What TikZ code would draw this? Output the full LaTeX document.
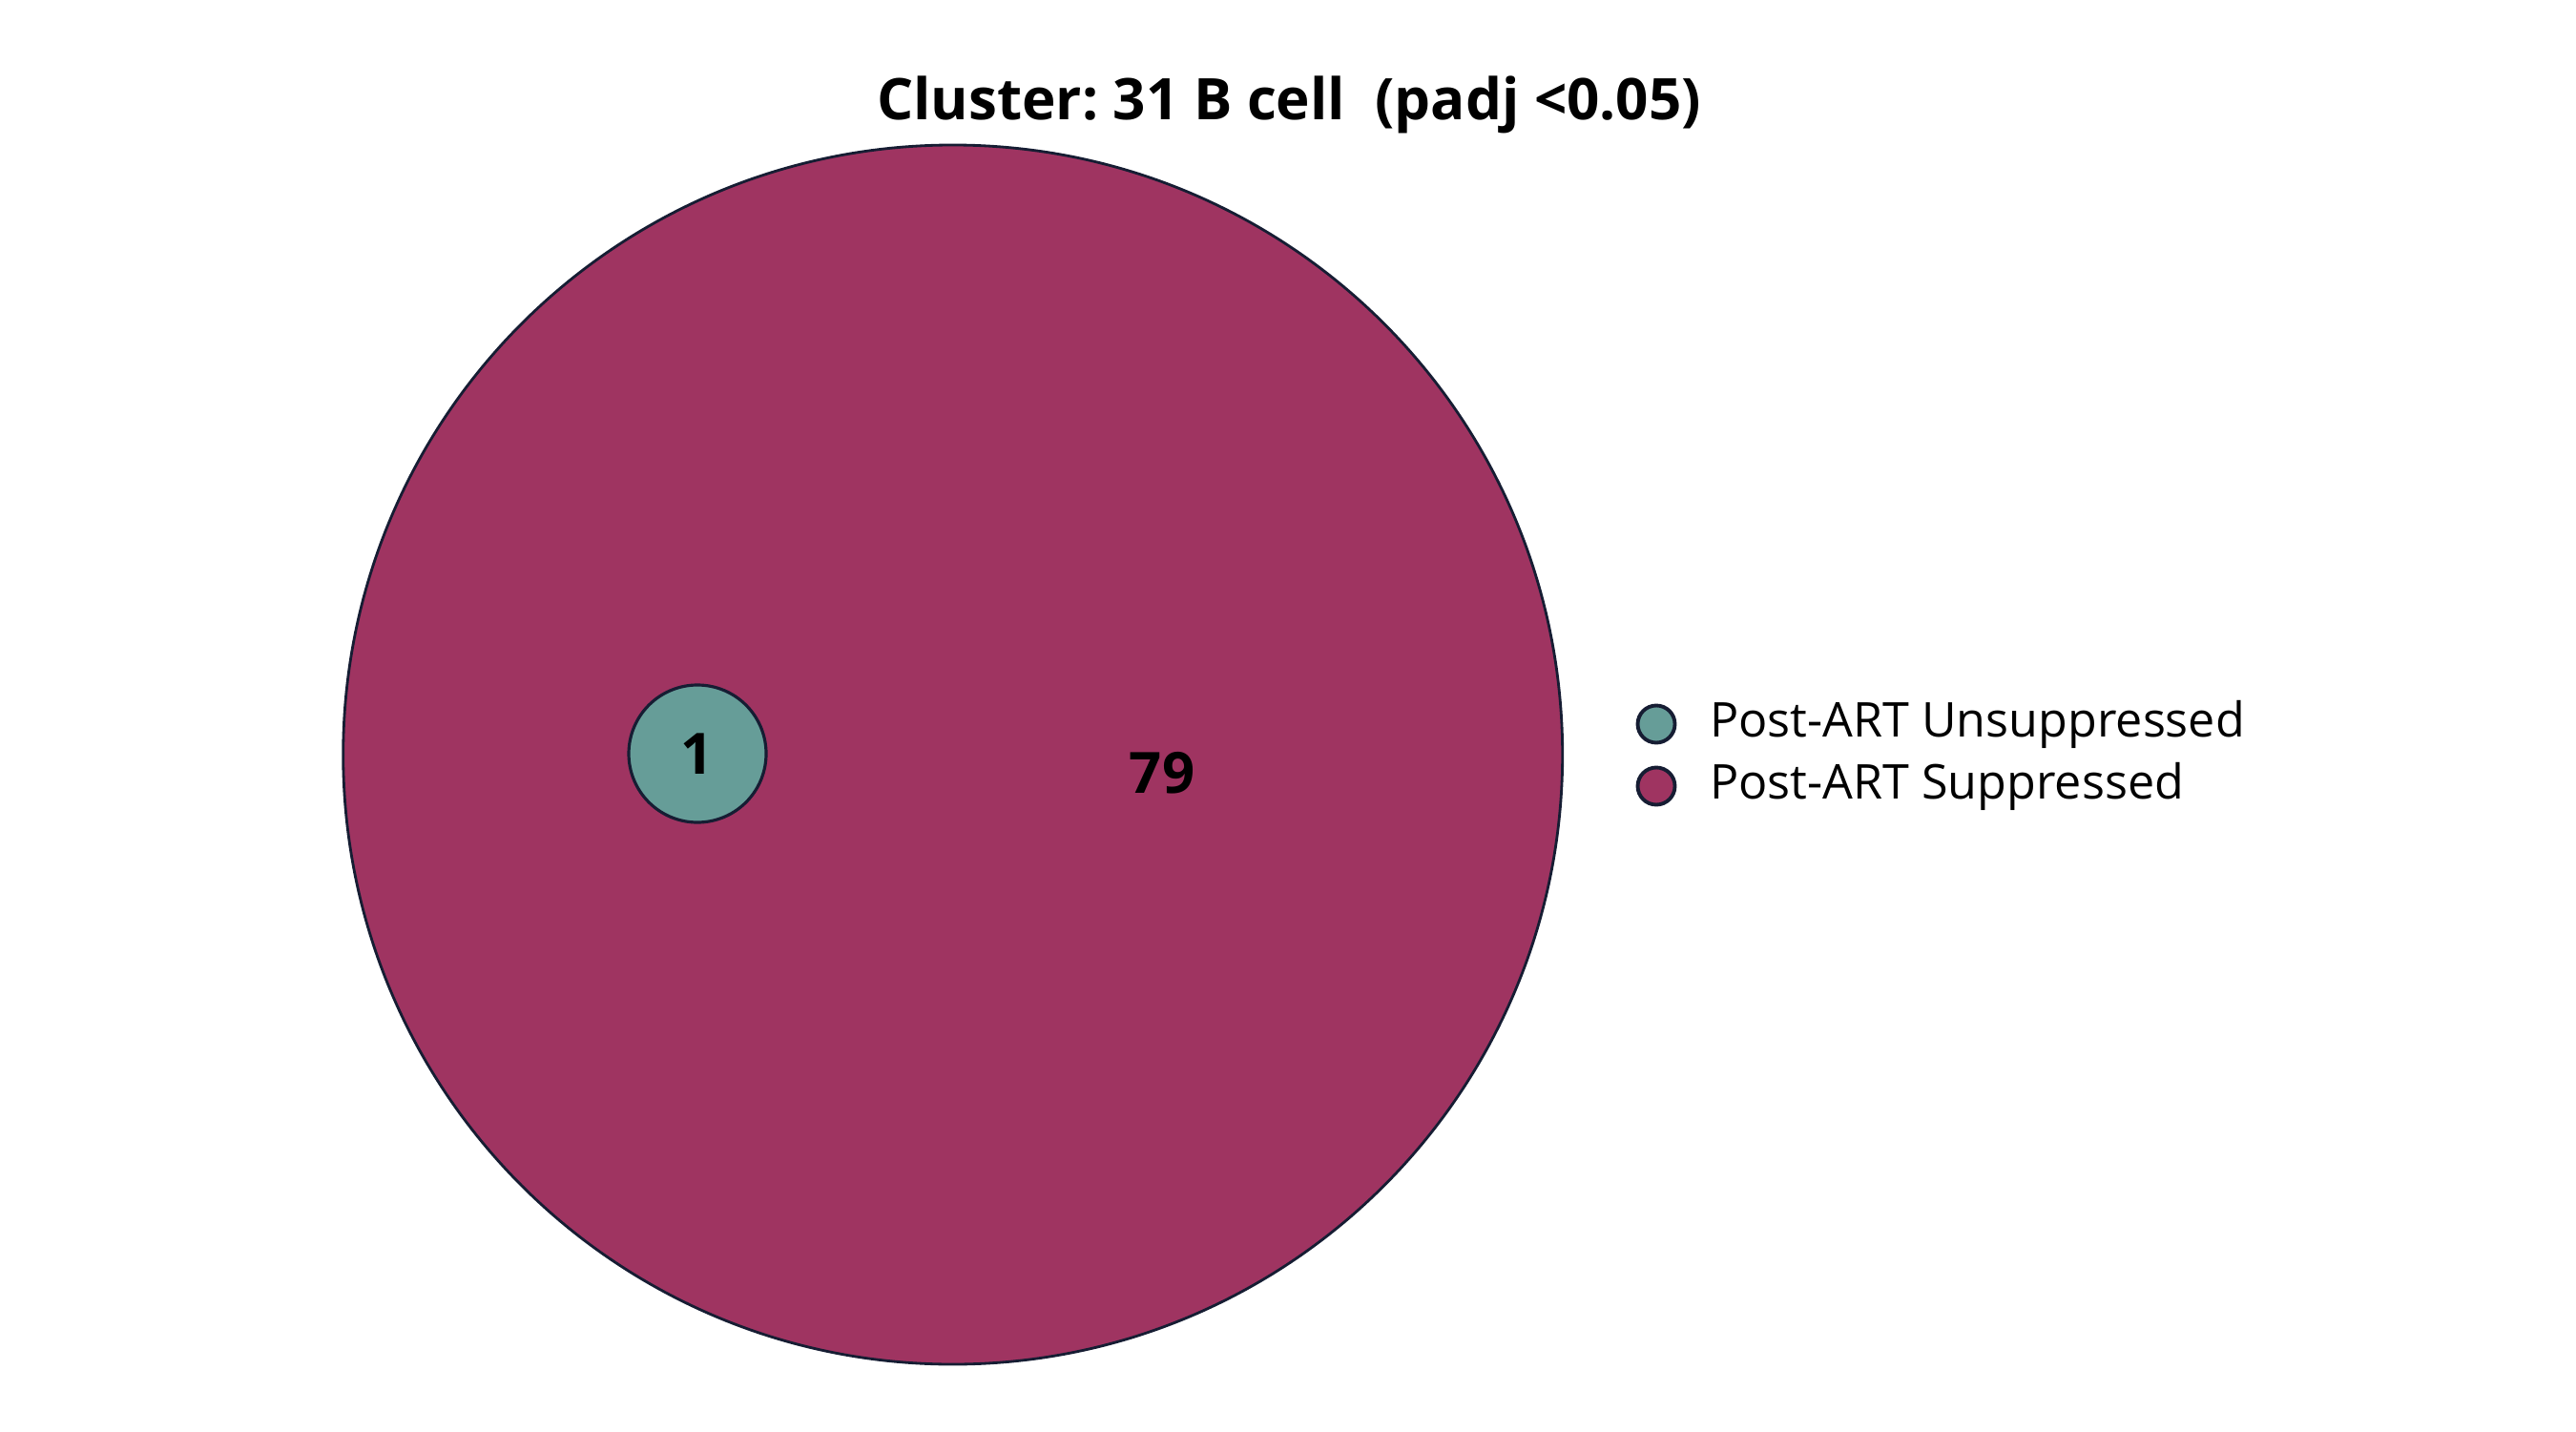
\documentclass[tikz,border=0pt]{standalone}
\usepackage{fontspec}
\setmainfont{Open Sans}
\usetikzlibrary{positioning}

\definecolor{suppr}{HTML}{9F3461}
\definecolor{unsup}{HTML}{669D98}
\definecolor{rim}{HTML}{161D33}

\begin{document}
\frenchspacing
\begin{tikzpicture}[x=1cm, y=1cm, node distance=0.35cm]

\useasboundingbox (0,0) rectangle (27,15);

% Title
\node[font=\bfseries\fontsize{17.1}{21}\selectfont] (title) at (13.51,13.90) {Cluster: 31 B cell\ \ (padj <0.05)};

% Sets
\node[circle, draw=rim, line width=0.8pt, fill=suppr, minimum size=12.78cm, inner sep=0pt] (setB) at (9.987,7.09) {};
\node[circle, draw=rim, line width=0.9pt, fill=unsup, minimum size=1.44cm, inner sep=0pt] (setA) at (7.31,7.10) {};

% Counts
\node[font=\bfseries\fontsize{17}{20}\selectfont] (cntA) at (setA) {1};
\node[font=\bfseries\fontsize{17}{20}\selectfont] (cntB) at (12.18,6.90) {79};

% Legend
\node[circle, draw=rim, line width=1.1pt, fill=unsup, minimum size=0.39cm, inner sep=0pt] (keyA) at (17.36,7.41) {};
\node[circle, draw=rim, line width=1.1pt, fill=suppr, minimum size=0.39cm, inner sep=0pt] (keyB) at (17.36,6.76) {};
\node[font=\fontsize{14.3}{17}\selectfont, anchor=west, inner sep=0pt, right=0.34cm of keyA] (labA) {Post-ART Unsuppressed};
\node[font=\fontsize{14.3}{17}\selectfont, anchor=west, inner sep=0pt, right=0.34cm of keyB] (labB) {Post-ART Suppressed};

\end{tikzpicture}
\end{document}
